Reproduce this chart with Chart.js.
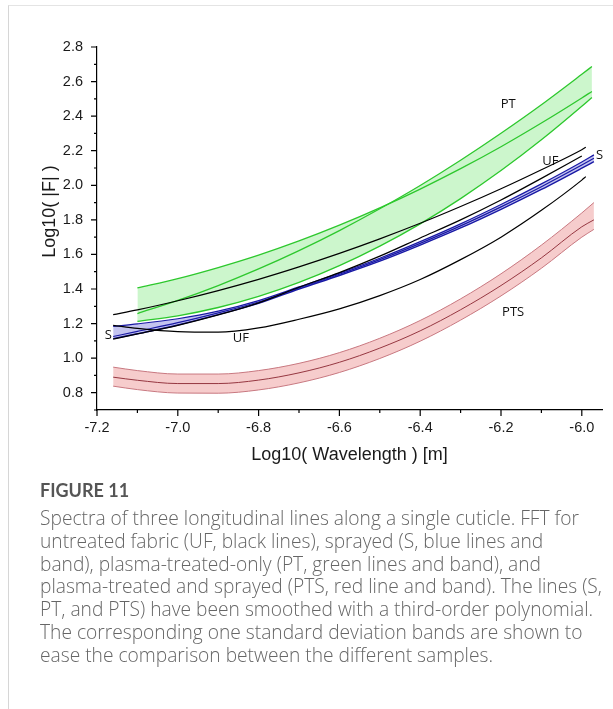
<!DOCTYPE html>
<html>
<head>
<meta charset="utf-8">
<script src="https://cdn.jsdelivr.net/npm/chart.js@4.4.1/dist/chart.umd.min.js"></script>
<style>
  body { margin: 0; background: #fff; width: 613px; height: 709px; overflow: hidden; position: relative; }
  #frame { position: absolute; left: 8px; top: 5px; width: 700px; height: 760px; border-left: 1px solid #d6d6d6; border-top: 1px solid #e4e4e4; }
  #wrap { position: absolute; left: 0; top: 0; width: 613px; height: 480px; }
  #caption { position: absolute; left: 40px; top: 479px; width: 570px; color: #666; font-family: "Open Sans", Lato, sans-serif; white-space: nowrap; }
  #caption .fig { font-family: Lato, sans-serif; font-size: 18px; font-weight: 700; color: #555; line-height: 22px; }
  #caption p { margin: 6px 0 0 0; font-size: 19.2px; font-weight: 300; line-height: 22.8px; }
</style>
</head>
<body>
<div id="frame"></div>
<div id="wrap"><canvas id="fig11"></canvas></div>
<div id="caption">
  <div class="fig">FIGURE 11</div>
  <p>Spectra of three longitudinal lines along a single cuticle. FFT for<br>untreated fabric (UF, black lines), sprayed (S, blue lines and<br>band), plasma-treated-only (PT, green lines and band), and<br>plasma-treated and sprayed (PTS, red line and band). The lines (S,<br>PT, and PTS) have been smoothed with a third-order polynomial.<br>The corresponding one standard deviation bands are shown to<br>ease the comparison between the different samples.</p>
</div>
<script>
// untreated fabric, three raw lines
const xUF = [-7.16, -7.1, -7.0, -6.9, -6.8, -6.7, -6.6, -6.5, -6.4, -6.3, -6.2, -6.1, -6.0, -5.99];
const uf1 = [1.252, 1.279, 1.332, 1.391, 1.456, 1.528, 1.606, 1.690, 1.780, 1.877, 1.980, 2.090, 2.206, 2.220];
const uf2 = [1.190, 1.172, 1.153, 1.150, 1.175, 1.225, 1.285, 1.362, 1.455, 1.570, 1.700, 1.855, 2.030, 2.050];
const uf3 = [1.110, 1.140, 1.190, 1.250, 1.320, 1.410, 1.495, 1.590, 1.695, 1.800, 1.915, 2.040, 2.170, null];

// sprayed
const xS = [-7.16, -7.1, -7.0, -6.9, -6.8, -6.7, -6.6, -6.5, -6.4, -6.3, -6.2, -6.1, -6.0, -5.97];
const sHi = [1.184, 1.198, 1.228, 1.272, 1.333, 1.412, 1.492, 1.578, 1.674, 1.777, 1.889, 2.008, 2.135, 2.176];
const sFit = [1.125, 1.155, 1.205, 1.262, 1.325, 1.406, 1.485, 1.570, 1.664, 1.765, 1.875, 1.992, 2.117, 2.156];
const sLo = [1.113, 1.141, 1.192, 1.252, 1.317, 1.400, 1.478, 1.561, 1.654, 1.753, 1.861, 1.976, 2.099, 2.137];

// plasma treated only
const xPT = [-7.1, -7.0, -6.9, -6.8, -6.7, -6.6, -6.5, -6.4, -6.3, -6.2, -6.1, -6.0, -5.975];
const ptHi = [1.406, 1.460, 1.524, 1.596, 1.678, 1.769, 1.869, 1.978, 2.096, 2.223, 2.360, 2.505, 2.543];
const ptFit = [1.258, 1.334, 1.420, 1.516, 1.622, 1.738, 1.864, 1.999, 2.145, 2.301, 2.466, 2.642, 2.687];
const ptLo = [1.213, 1.245, 1.293, 1.357, 1.438, 1.535, 1.648, 1.777, 1.923, 2.085, 2.263, 2.457, 2.508];

// plasma treated and sprayed
const xPTS = [-7.16, -7.1, -7.0, -6.9, -6.8, -6.7, -6.6, -6.5, -6.4, -6.3, -6.2, -6.1, -6.0, -5.97];
const ptsHi = [0.948, 0.928, 0.908, 0.908, 0.928, 0.970, 1.032, 1.115, 1.218, 1.343, 1.488, 1.654, 1.840, 1.900];
const ptsFit = [0.890, 0.872, 0.853, 0.853, 0.873, 0.915, 0.976, 1.058, 1.158, 1.280, 1.420, 1.580, 1.760, 1.800];
const ptsLo = [0.838, 0.818, 0.798, 0.797, 0.816, 0.857, 0.917, 0.998, 1.098, 1.220, 1.360, 1.520, 1.700, 1.745];

const tags = ['PT', 'UF', 'S', 'S', 'UF', 'PTS'];
const tagX = [-6.182, -6.078, -5.956, -7.172, -6.844, -6.170];
const tagY = [2.466, 2.141, 2.176, 1.132, 1.115, 1.263];

const yTitle = 'Log10( |F| )';

function pts(xs, ys) {
    return xs.map((x, i) => ({x: x, y: ys[i]}));
}

function isMajor(v) {
    return Math.abs(Math.round(v * 10)) % 2 === 0;
}

function line(data, color, width, extra) {
    return Object.assign({
        data: data,
        borderColor: color,
        borderWidth: width,
        pointRadius: 0,
        fill: false,
        cubicInterpolationMode: 'monotone'
    }, extra || {});
}

const green = 'rgb(45, 200, 45)';
const greenFill = 'rgb(204, 246, 204)';
const blue = 'rgb(25, 25, 165)';
const blueFill = 'rgb(196, 196, 240)';
const red = 'rgb(150, 55, 65)';
const redEdge = 'rgb(200, 120, 128)';
const redFill = 'rgb(246, 204, 204)';

// first dataset is drawn on top
const datasets = [
    line(pts(xUF, uf1), '#000', 1.2),
    line(pts(xUF, uf2), '#000', 1.2),
    line(pts(xUF, uf3), '#000', 1.2),
    line(pts(xS, sFit), blue, 1.2),
    line(pts(xS, sHi), blue, 1.2, {fill: {target: 5}, backgroundColor: blueFill}),
    line(pts(xS, sLo), blue, 1.4),
    line(pts(xPT, ptFit), green, 1.3, {fill: {target: 8}, backgroundColor: greenFill}),
    line(pts(xPT, ptHi), green, 1.3, {fill: {target: 8}, backgroundColor: greenFill}),
    line(pts(xPT, ptLo), green, 1.3),
    line(pts(xPTS, ptsFit), red, 1),
    line(pts(xPTS, ptsHi), redEdge, 1, {fill: {target: 11}, backgroundColor: redFill}),
    line(pts(xPTS, ptsLo), redEdge, 1)
];

const tickMarks = {
    id: 'tickMarks',
    afterDraw(chart) {
        const ctx = chart.ctx;
        const xs = chart.scales.x, ys = chart.scales.y;
        ctx.save();
        ctx.strokeStyle = '#000';
        ctx.lineWidth = 1.2;
        ctx.beginPath();
        xs.ticks.forEach(t => {
            const px = xs.getPixelForValue(t.value);
            ctx.moveTo(px, xs.top);
            ctx.lineTo(px, xs.top + (isMajor(t.value) ? 6 : 3));
        });
        ys.ticks.forEach(t => {
            const py = ys.getPixelForValue(t.value);
            ctx.moveTo(ys.right, py);
            ctx.lineTo(ys.right - (isMajor(t.value) ? 6 : 3), py);
        });
        ctx.stroke();
        ctx.fillStyle = '#111';
        ctx.font = '13px "Open Sans"';
        ctx.textAlign = 'center';
        ctx.textBaseline = 'middle';
        tags.forEach((t, i) => {
            ctx.fillText(t, xs.getPixelForValue(tagX[i]), ys.getPixelForValue(tagY[i]));
        });
        // y title sits a little above the axis middle in the original
        ctx.fillStyle = '#1a1a1a';
        ctx.font = '18px "Liberation Sans", Arial, sans-serif';
        ctx.translate(ys.left + 50, (ys.top + ys.bottom) / 2 - 17);
        ctx.rotate(-Math.PI / 2);
        ctx.fillText(yTitle, 0, 0);
        ctx.restore();
    }
};

Chart.defaults.font.family = '"Liberation Sans", Arial, sans-serif';
Chart.defaults.color = '#1a1a1a';

const ctx = document.getElementById('fig11').getContext('2d');
const chart = new Chart(ctx, {
    type: 'line',
    data: { datasets: datasets },
    options: {
        responsive: true,
        maintainAspectRatio: false,
        animation: false,
        layout: { padding: { left: 0, top: 47, right: 11, bottom: 0 } },
        plugins: {
            legend: { display: false },
            tooltip: { enabled: false },
            filler: { drawTime: 'beforeDatasetsDraw' }
        },
        scales: {
            x: {
                type: 'linear',
                min: -7.2,
                max: -5.95,
                grid: { display: false },
                border: { display: true, color: '#000', width: 1.2 },
                ticks: {
                    stepSize: 0.1,
                    includeBounds: false,
                    autoSkip: false,
                    maxRotation: 0,
                    padding: 1,
                    font: { size: 14.5 },
                    callback: (v) => isMajor(v) ? v.toFixed(1) : ''
                },
                title: {
                    display: true,
                    text: 'Log10( Wavelength ) [m]',
                    font: { size: 18 },
                    padding: { top: 0, bottom: 14 }
                },
                afterFit: (s) => { s.height = 70; }
            },
            y: {
                min: 0.7,
                max: 2.8,
                grid: { display: false },
                border: { display: true, color: '#000', width: 1.2 },
                ticks: {
                    stepSize: 0.1,
                    autoSkip: false,
                    padding: 6,
                    font: { size: 14.5 },
                    callback: (v) => (v < 0.75 || !isMajor(v)) ? '' : v.toFixed(1)
                },
                afterFit: (s) => { s.width = 97; }
            }
        }
    },
    plugins: [tickMarks]
});
</script>
</body>
</html>
